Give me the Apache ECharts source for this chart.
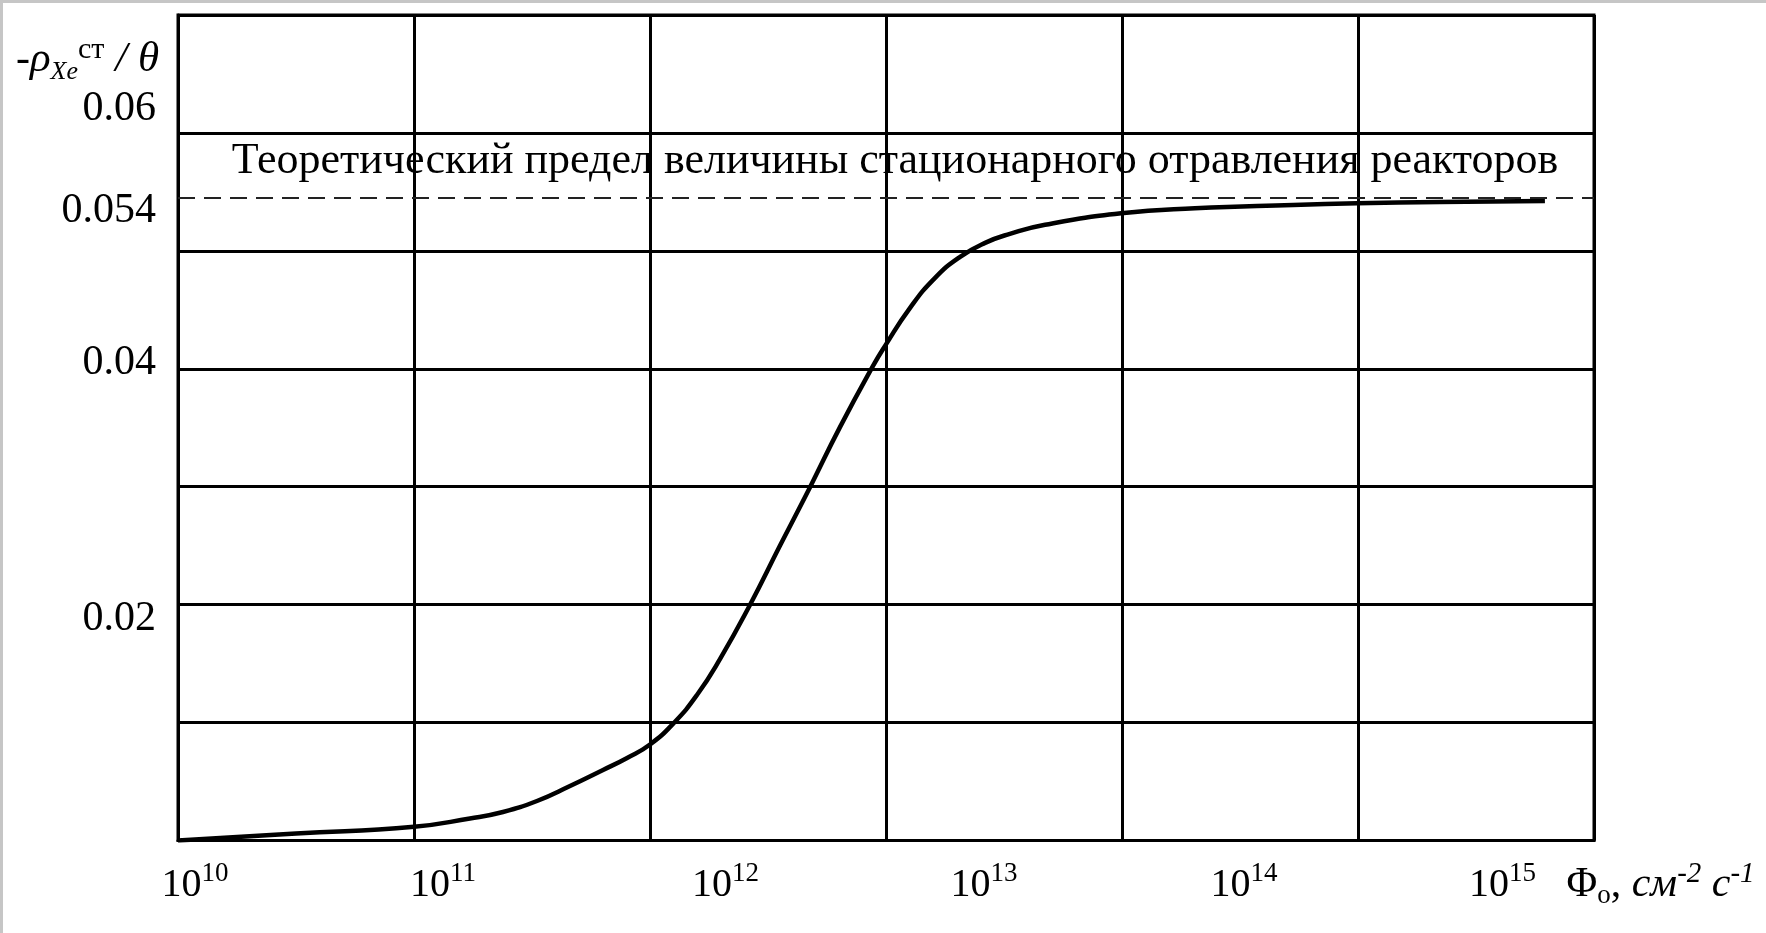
<!DOCTYPE html>
<html>
<head>
<meta charset="utf-8">
<script src="https://cdn.jsdelivr.net/npm/echarts@6/dist/echarts.min.js"></script>
<style>
html,body{margin:0;padding:0;background:#fff;overflow:hidden}
#chart{position:absolute;left:0;top:0;width:1766px;height:933px}
#frame{position:absolute;left:0;top:0;width:1766px;height:933px;box-sizing:border-box;border-top:3px solid #c6c6c6;border-left:3px solid #c6c6c6;pointer-events:none}
</style>
</head>
<body>
<div id="chart"></div>
<div id="frame"></div>
<script>
// ---- data ----
// log10 of neutron flux, cm^-2 s^-1
const fluxExponents = [10.0, 10.5, 11.0, 11.237, 11.377, 11.521, 11.661, 11.801, 11.903, 12.0,
  12.102, 12.199, 12.297, 12.424, 12.551, 12.678, 12.805, 12.945, 12.996, 13.102,
  13.208, 13.314, 13.42, 13.525, 13.674, 13.996, 14.309, 14.725, 14.996, 15.347, 15.792];
// -rho_Xe / theta
const poisoning = [0.0, 0.00059, 0.00117, 0.00187, 0.00242, 0.00335, 0.00462, 0.00598, 0.00700, 0.00814,
  0.00999, 0.01234, 0.01540, 0.01999, 0.02501, 0.02996, 0.03505, 0.04024, 0.04194, 0.04517,
  0.04771, 0.04949, 0.05068, 0.05144, 0.05221, 0.05318, 0.05361, 0.05389, 0.05403, 0.05414, 0.05423];
const xTickExponents = [10, 11, 12, 13, 14, 15];
const yTickLabels = [0.02, 0.04, 0.06];
const limitTickLabel = 0.054;
const limitLevel = 0.0545;
const limitText = 'Теоретический предел величины стационарного отравления реакторов';

// ---- styles ----
const FONT = "'Liberation Serif', 'Times New Roman', serif";
const xLabelShift = {10: 17, 11: 29, 12: 75.5, 13: 98, 14: 122, 15: 144.5};
const yLabelPad = {2: [28, 0, 0, 0], 4: [0, 0, 12, 0], 6: [0, 0, 48, 0]};

const xRich = {
  s: {fontFamily: FONT, fontSize: 27, lineHeight: 22, verticalAlign: 'top', color: '#000'}
};
xTickExponents.forEach(function (e) {
  xRich['b' + e] = {fontFamily: FONT, fontSize: 40, lineHeight: 50, verticalAlign: 'middle',
    color: '#000', padding: [0, 0, 0, 2 * xLabelShift[e]]};
});
const yRich = {};
Object.keys(yLabelPad).forEach(function (k) {
  yRich['y' + k] = {fontFamily: FONT, fontSize: 42, color: '#000', lineHeight: 44, padding: yLabelPad[k]};
});

const seriesData = fluxExponents.map(function (e, i) { return [Math.pow(10, e), poisoning[i]]; });

const chart = echarts.init(document.getElementById('chart'), null, {renderer: 'canvas'});
chart.setOption({
  animation: false,
  backgroundColor: '#fff',
  grid: {left: 178, right: 172, top: 15, bottom: 92.5, show: true, borderColor: '#000', borderWidth: 3,
    backgroundColor: 'transparent', containLabel: false, outerBoundsMode: 'none'},
  xAxis: {
    type: 'log', logBase: 10, min: 1e10, max: 1e16, splitNumber: 6,
    axisLine: {show: true, lineStyle: {color: '#000', width: 3}},
    axisTick: {show: false},
    splitLine: {show: true, lineStyle: {color: '#000', width: 3}},
    axisLabel: {
      margin: 20,
      formatter: function (value) {
        const e = Math.round(Math.log10(value));
        if (xTickExponents.indexOf(e) < 0) return '';
        return '{b' + e + '|10}{s|' + e + '}';
      },
      rich: xRich
    },
    name: '{m|Φ}{sub|o}{m|, }{mi|см}{sup|-2}{m| }{mi|с}{sup|-1}',
    nameLocation: 'end', nameGap: -27.5, nameMoveOverlap: false,
    nameTextStyle: {
      align: 'left', verticalAlign: 'top', padding: [19, 0, 0, 0],
      rich: {
        m: {fontFamily: FONT, fontSize: 42, lineHeight: 50, verticalAlign: 'middle', color: '#000'},
        mi: {fontFamily: FONT, fontSize: 42, fontStyle: 'italic', lineHeight: 50, verticalAlign: 'middle', color: '#000'},
        sub: {fontFamily: FONT, fontSize: 27, lineHeight: 26, verticalAlign: 'bottom', color: '#000'},
        sup: {fontFamily: FONT, fontSize: 29, fontStyle: 'italic', lineHeight: 22, verticalAlign: 'top', color: '#000'}
      }
    }
  },
  yAxis: [{
    type: 'value', min: 0, max: 0.07, interval: 0.01,
    axisLine: {show: true, lineStyle: {color: '#000', width: 3}},
    axisTick: {show: false},
    splitLine: {show: true, lineStyle: {color: '#000', width: 3}},
    axisLabel: {
      margin: 22,
      formatter: function (v) {
        for (let i = 0; i < yTickLabels.length; i++) {
          if (Math.abs(yTickLabels[i] - v) < 1e-9) {
            return '{y' + Math.round(yTickLabels[i] * 100) + '|' + yTickLabels[i] + '}';
          }
        }
        return '';
      },
      rich: yRich
    },
    name: '{m|-}{mi|ρ}{sub|Xe}{sup|ст}{mi| / θ}',
    nameLocation: 'end', nameGap: -70, nameMoveOverlap: false,
    nameTextStyle: {
      align: 'right', verticalAlign: 'bottom', padding: [0, 19, 0, 0],
      rich: {
        m: {fontFamily: FONT, fontSize: 42, lineHeight: 50, verticalAlign: 'middle', color: '#000'},
        mi: {fontFamily: FONT, fontSize: 43, fontStyle: 'italic', lineHeight: 50, verticalAlign: 'middle', color: '#000'},
        sub: {fontFamily: FONT, fontSize: 26, fontStyle: 'italic', lineHeight: 34, verticalAlign: 'bottom', color: '#000'},
        sup: {fontFamily: FONT, fontSize: 30, lineHeight: 12, verticalAlign: 'top', color: '#000'}
      }
    }
  }, {
    type: 'value', min: 0, max: 0.07, interval: 0.002, position: 'left',
    axisLine: {show: false}, axisTick: {show: false}, splitLine: {show: false},
    axisLabel: {
      margin: 22,
      formatter: function (v) {
        return Math.abs(v - limitTickLabel) < 1e-9 ? '{l|' + limitTickLabel + '}' : '';
      },
      rich: {l: {fontFamily: FONT, fontSize: 42, color: '#000', lineHeight: 44, padding: [14, 0, 0, 0]}}
    }
  }],
  series: [{
    type: 'line',
    xAxisIndex: 0, yAxisIndex: 0,
    data: seriesData,
    showSymbol: false,
    smooth: 0.5,
    lineStyle: {color: '#000', width: 4.5},
    emphasis: {disabled: true},
    silent: true,
    markLine: {
      silent: true,
      precision: 4,
      symbol: ['none', 'none'],
      lineStyle: {type: [17, 9], width: 2.2, color: '#222'},
      emphasis: {disabled: true},
      label: {
        show: true, position: 'insideMiddleTop', formatter: limitText,
        fontFamily: FONT, fontSize: 44, lineHeight: 50, color: '#000',
        distance: 11, padding: [0, 0, 0, 18]
      },
      data: [{yAxis: limitLevel}]
    }
  }]
});
</script>
</body>
</html>
